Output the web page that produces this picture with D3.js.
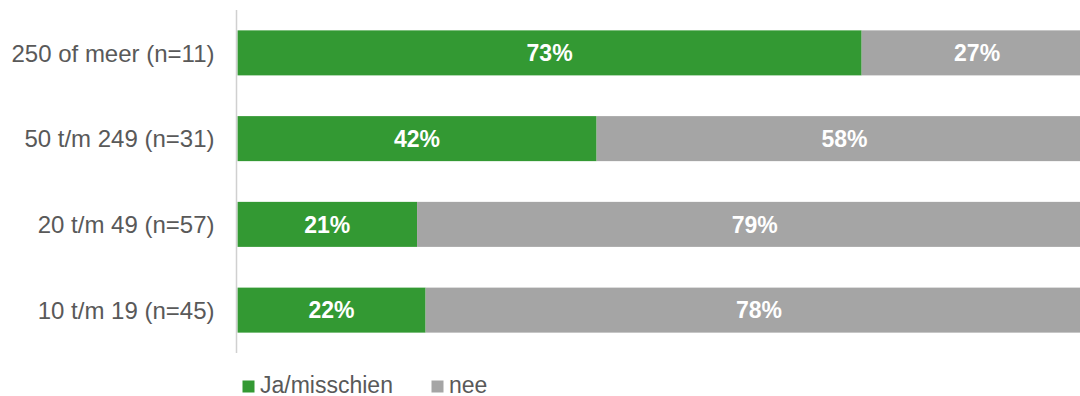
<!DOCTYPE html>
<html>
<head>
<meta charset="utf-8">
<script src="https://cdn.jsdelivr.net/npm/d3@7"></script>
<style>
  html, body { margin: 0; padding: 0; background: #ffffff; }
  svg { display: block; font-family: "Liberation Sans", Arial, sans-serif; }
</style>
</head>
<body>
<svg id="chart" width="1080" height="396"></svg>
<script>
// Company size classes, top to bottom
const categories = ["250 of meer (n=11)", "50 t/m 249 (n=31)", "20 t/m 49 (n=57)", "10 t/m 19 (n=45)"];
// Share answering "Ja/misschien" and "nee", in percent
const jaValues = [73, 42, 21, 22];
const neeValues = [27, 58, 79, 78];
const seriesNames = ["Ja/misschien", "nee"];
const seriesColors = ["#339933", "#a5a5a5"];

const svg = d3.select("#chart");
const fontSize = 23;
const axisFontSize = 24;

const x = d3.scaleLinear().domain([0, 100]).range([237.5, 1092.5]);
const y = d3.scaleBand().domain(categories).range([10, 353]).paddingInner(0.475).paddingOuter(0.2375);

const rows = categories.map((c, i) => ({ cat: c, ja: jaValues[i], nee: neeValues[i] }));
const stack = d3.stack().keys(["ja", "nee"]);
const layers = stack(rows);

const g = svg.append("g");
layers.forEach((layer, li) => {
  const lg = g.append("g");
  lg.selectAll("rect")
    .data(layer)
    .join("rect")
    .attr("x", d => x(d[0]))
    .attr("y", d => y(d.data.cat))
    .attr("width", d => x(d[1]) - x(d[0]))
    .attr("height", y.bandwidth())
    .attr("fill", seriesColors[li]);
  lg.selectAll("text")
    .data(layer)
    .join("text")
    .attr("x", d => (x(d[0]) + Math.min(x(d[1]), 1092.5)) / 2)
    .attr("y", d => y(d.data.cat) + y.bandwidth() / 2)
    .attr("dy", "0.36em")
    .attr("text-anchor", "middle")
    .attr("font-size", fontSize)
    .attr("font-weight", "bold")
    .attr("fill", "#ffffff")
    .text(d => (d[1] - d[0]) + "%");
});

// Category axis
const yAxis = svg.append("g")
  .attr("transform", "translate(236.5,0)")
  .call(d3.axisLeft(y).tickSize(0).tickPadding(22));
yAxis.select(".domain").attr("stroke", "#d0d0d0").attr("stroke-width", 1.5).attr("d", "M0,10V353");
yAxis.selectAll("text")
  .attr("font-size", axisFontSize)
  .attr("font-family", "\"Liberation Sans\", Arial, sans-serif")
  .attr("fill", "#595959")
  .attr("dy", "0.36em");

// Legend
const legendX = [242.5, 431.5];
const legend = svg.append("g");
seriesNames.forEach((name, i) => {
  legend.append("rect")
    .attr("x", legendX[i]).attr("y", 380.5)
    .attr("width", 12).attr("height", 12)
    .attr("fill", seriesColors[i]);
  legend.append("text")
    .attr("x", legendX[i] + 17.5).attr("y", 392.5)
    .attr("font-size", fontSize)
    .attr("fill", "#595959")
    .text(name);
});
</script>
</body>
</html>
